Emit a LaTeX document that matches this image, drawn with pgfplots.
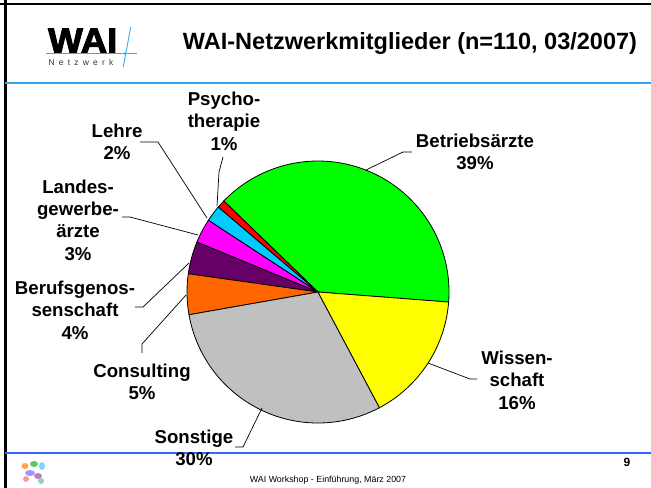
\documentclass[border=0pt]{standalone}
\usepackage{fontspec}
\setmainfont{Liberation Sans}
\usepackage{pgfplots}
\pgfplotsset{compat=1.18}
\definecolor{cgreen}{HTML}{00FF00}
\definecolor{cyellow}{HTML}{FFFF00}
\definecolor{cgray}{HTML}{C0C0C0}
\definecolor{corange}{HTML}{FF6600}
\definecolor{cpurple}{HTML}{660066}
\definecolor{cmagenta}{HTML}{FF00FF}
\definecolor{ccyan}{HTML}{00CCFF}
\definecolor{cred}{HTML}{FF0000}
\definecolor{hblue}{RGB}{51,163,243}
\definecolor{fblue}{RGB}{51,102,255}
\definecolor{logoblue}{RGB}{60,170,240}
% shares in percent (counter-clockwise from the Betriebsaerzte/Wissenschaft border)
\pgfmathsetmacro\sA{-4.4}
\pgfmathsetmacro\sB{\sA+3.6*39}% Betriebsaerzte
\pgfmathsetmacro\sC{\sB+3.6*1}% Psychotherapie
\pgfmathsetmacro\sD{\sC+3.6*2}% Lehre
\pgfmathsetmacro\sE{\sD+3.6*3}% Landesgewerbeaerzte
\pgfmathsetmacro\sF{\sE+3.6*4}% Berufsgenossenschaft
\pgfmathsetmacro\sG{\sF+3.6*5}% Consulting
\pgfmathsetmacro\sH{\sG+3.6*30}% Sonstige
\pgfmathsetmacro\sI{\sH+3.6*16}% Wissenschaft
\newcommand\lab{\fontsize{18.7}{22.5}\selectfont\bfseries}
\begin{document}
\begin{tikzpicture}[x=1bp,y=-1bp]
\fill[white] (0,0) rectangle (651,488);
\useasboundingbox (0,0) rectangle (651,488);
\begin{axis}[at={(0,0)},anchor=north west,scale only axis,width=651bp,height=488bp,
  xmin=0,xmax=651,ymin=0,ymax=488,y dir=reverse,hide axis,clip=false]
% frame
\draw[line width=2.7bp,black] (0,4) -- (651,4);
\draw[line width=2.7bp,black] (5.3,0) -- (5.3,488);
\draw[line width=2bp,hblue] (5.3,83) -- (651,83);
\draw[line width=2bp,fblue] (5.3,452.5) -- (651,452.5);
% logo
\node[anchor=base west,inner sep=0pt,font=\fontsize{35}{35}\selectfont\addfontfeature{FakeBold=3,FakeStretch=1.05}\bfseries] at (48,52.7) {WAI};
\draw[logoblue,line width=0.9bp] (46,53.3) -- (137,53.3);
\draw[logoblue,line width=0.9bp] (130.7,27.3) -- (123.3,66.7);
\fill[logoblue] (125,53.3) circle (1.5);
\node[anchor=base west,inner sep=0pt,text=black!80,font=\fontsize{8.5}{8.5}\selectfont\addfontfeature{LetterSpace=50}] at (48.3,65.7) {Netzwerk};
% title
\node[anchor=base,inner sep=0pt,font=\fontsize{23.6}{24}\selectfont\bfseries] at (410,49.5) {WAI-Netzwerkmitglieder (n=110, 03/2007)};
% pie
\addplot[fill=cgreen,draw=black,line width=0.8bp,domain=\sA:\sB,samples=90] ({318+131*cos(x)},{292-131*sin(x)}) -- (axis cs:318,292) -- cycle;
\addplot[fill=cred,draw=black,line width=0.8bp,domain=\sB:\sC,samples=5] ({318+131*cos(x)},{292-131*sin(x)}) -- (axis cs:318,292) -- cycle;
\addplot[fill=ccyan,draw=black,line width=0.8bp,domain=\sC:\sD,samples=8] ({318+131*cos(x)},{292-131*sin(x)}) -- (axis cs:318,292) -- cycle;
\addplot[fill=cmagenta,draw=black,line width=0.8bp,domain=\sD:\sE,samples=10] ({318+131*cos(x)},{292-131*sin(x)}) -- (axis cs:318,292) -- cycle;
\addplot[fill=cpurple,draw=black,line width=0.8bp,domain=\sE:\sF,samples=12] ({318+131*cos(x)},{292-131*sin(x)}) -- (axis cs:318,292) -- cycle;
\addplot[fill=corange,draw=black,line width=0.8bp,domain=\sF:\sG,samples=14] ({318+131*cos(x)},{292-131*sin(x)}) -- (axis cs:318,292) -- cycle;
\addplot[fill=cgray,draw=black,line width=0.8bp,domain=\sG:\sH,samples=70] ({318+131*cos(x)},{292-131*sin(x)}) -- (axis cs:318,292) -- cycle;
\addplot[fill=cyellow,draw=black,line width=0.8bp,domain=\sH:\sI,samples=40] ({318+131*cos(x)},{292-131*sin(x)}) -- (axis cs:318,292) -- cycle;
% leader lines
\draw[line width=0.7bp] (412,152) -- (403,152) -- (366,170);
\draw[line width=0.7bp] (428,363) -- (470,379) -- (477,379);
\draw[line width=0.7bp] (262,408) -- (243,447) -- (235,447);
\draw[line width=0.7bp] (186,295) -- (142,344) -- (142,353);
\draw[line width=0.7bp] (189,263) -- (143,307) -- (135,307);
\draw[line width=0.7bp] (198,235) -- (130,217) -- (122,217);
\draw[line width=0.7bp] (207,218) -- (158,142) -- (140,142);
\draw[line width=0.7bp] (217,206) -- (219,172) -- (223,157);
% labels
\node[align=center,font=\lab,inner sep=0pt] at (475,152) {Betriebsärzte\\39\%};
\node[align=center,font=\lab,inner sep=0pt] at (517,380) {Wissen-\\schaft\\16\%};
\node[align=center,font=\lab,inner sep=0pt] at (194,448) {Sonstige\\30\%};
\node[align=center,font=\lab,inner sep=0pt] at (142,382) {Consulting\\5\%};
\node[align=center,font=\lab,inner sep=0pt] at (75,310) {Berufsgenos-\\senschaft\\4\%};
\node[align=center,font=\lab,inner sep=0pt] at (78,220) {Landes-\\gewerbe-\\ärzte\\3\%};
\node[align=center,font=\lab,inner sep=0pt] at (117,142) {Lehre\\2\%};
\node[align=center,font=\lab,inner sep=0pt] at (224,121) {Psycho-\\therapie\\1\%};
% footer
\node[anchor=center,inner sep=0pt,font=\fontsize{8.9}{10}\selectfont] at (328,480) {WAI Workshop - Einführung, März 2007};
\node[anchor=center,inner sep=0pt,font=\fontsize{12}{12}\selectfont\bfseries] at (627,462) {9};
% footer emblem
\fill[orange!70] (25,466) ellipse (3.5 and 3);
\fill[green!60!black!60] (34,464) ellipse (4 and 3);
\fill[cyan!50] (42,466) ellipse (3 and 4);
\fill[blue!40] (30,473) ellipse (5 and 3);
\fill[violet!50] (38,476) ellipse (4 and 3);
\fill[red!40] (26,479) ellipse (3 and 3);
\fill[teal!40] (41,481) ellipse (3 and 3);
\end{axis}
\end{tikzpicture}
\end{document}
